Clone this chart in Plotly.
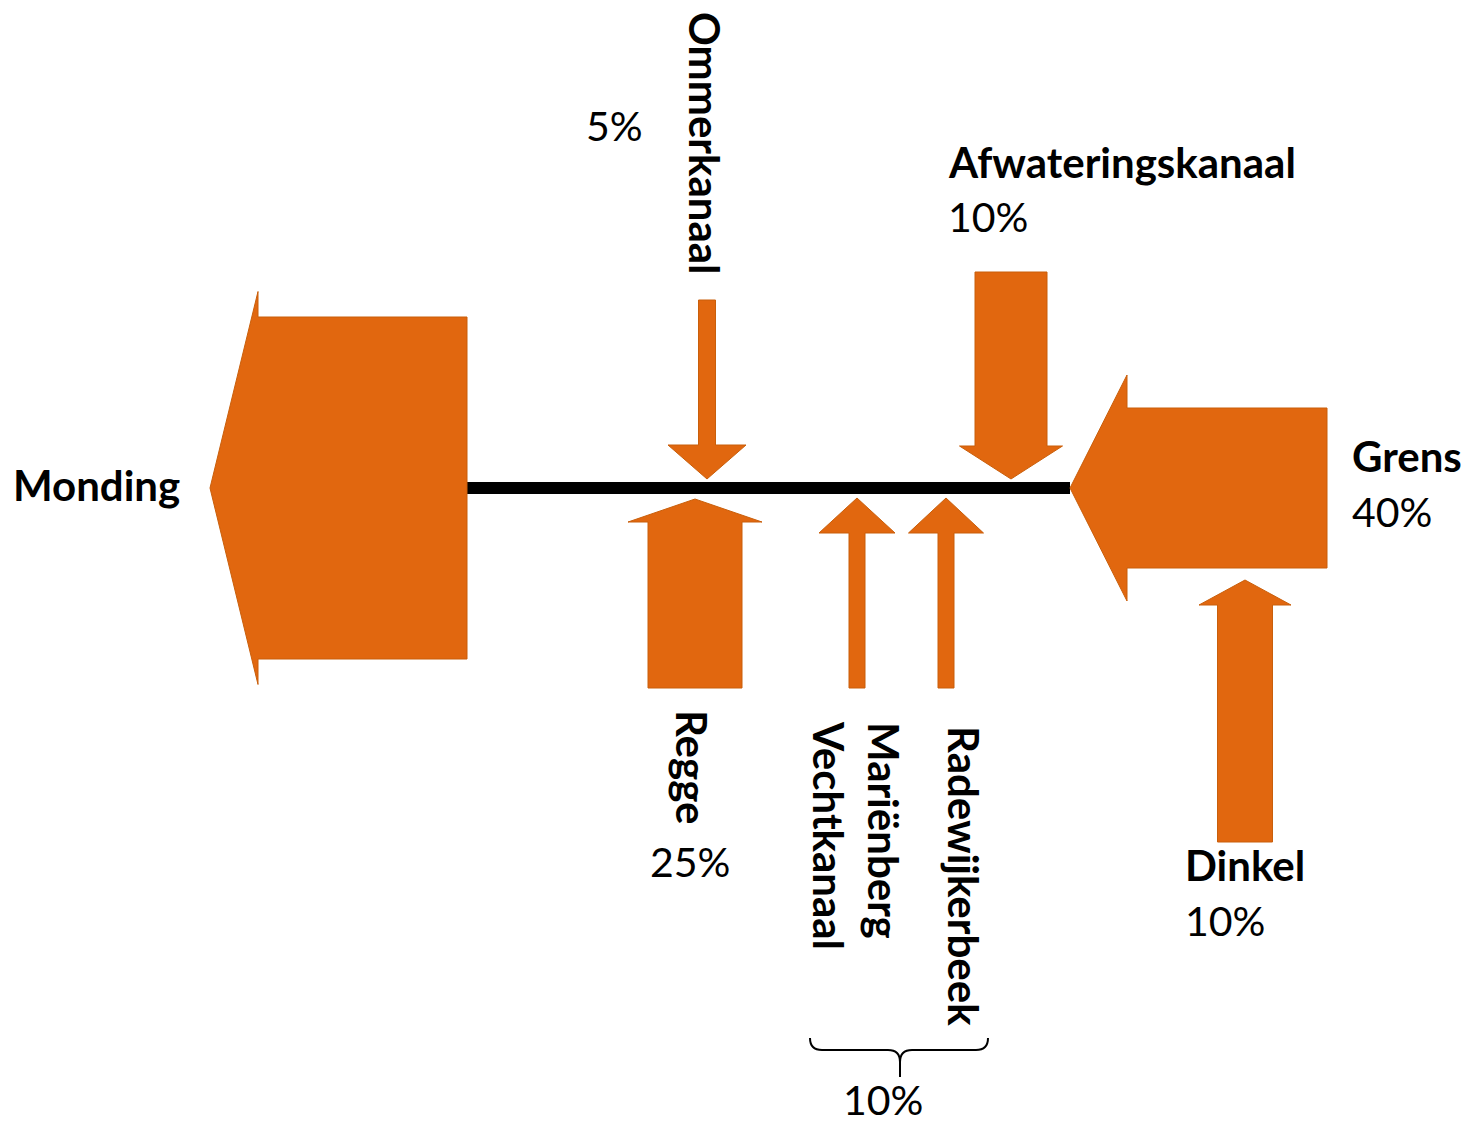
import plotly.graph_objects as go

# ---------------- data ----------------
rivers = ["Monding", "Ommerkanaal", "Regge", "Mariënberg<br>Vechtkanaal",
          "Radewijkerbeek", "Afwateringskanaal", "Grens", "Dinkel"]
shares = [None, 5, 25, None, None, 10, 40, 10]
group_members = ["Mariënberg<br>Vechtkanaal", "Radewijkerbeek"]
group_share = 10

# ---------------- layout (pixel geometry of the schematic) ----------------
W, H = 1470, 1126
ORANGE = "#E1670F"
EDGE = "#C95F0B"
FONT = "Lato, Carlito, Calibri, sans-serif"
FS_NAME = 42
FS_PCT = 41

# arrow geometry: tip, direction, total length, shaft width, head width, head length
arrow_geom = {
    "Monding":                  dict(tip=(210, 488), d=(-1, 0), L=257, w=342, hw=393, hl=48),
    "Grens":                    dict(tip=(1070, 488), d=(-1, 0), L=257, w=160, hw=226, hl=57),
    "Dinkel":                   dict(tip=(1245, 580), d=(0, -1), L=262, w=55, hw=92, hl=25),
    "Afwateringskanaal":        dict(tip=(1011, 479), d=(0, 1), L=207, w=72, hw=103, hl=33),
    "Ommerkanaal":              dict(tip=(707, 479), d=(0, 1), L=179, w=17, hw=78, hl=34),
    "Regge":                    dict(tip=(695, 499), d=(0, -1), L=189, w=94, hw=134, hl=23),
    "Mariënberg<br>Vechtkanaal": dict(tip=(857, 498), d=(0, -1), L=190, w=16, hw=76, hl=35),
    "Radewijkerbeek":           dict(tip=(946, 498), d=(0, -1), L=190, w=16, hw=75, hl=35),
}

# label placement: (x, y, xanchor, yanchor, angle) for name, and for the share
name_pos = {
    "Monding":                  (182, 485, "right", "middle", 0),
    "Ommerkanaal":              (705, 143, "center", "middle", 90),
    "Regge":                    (692, 767, "center", "middle", 90),
    "Mariënberg<br>Vechtkanaal": (857, 835, "center", "middle", 90),
    "Radewijkerbeek":           (964, 876, "center", "middle", 90),
    "Afwateringskanaal":        (946, 162, "left", "middle", 0),
    "Grens":                    (1350, 456, "left", "middle", 0),
    "Dinkel":                   (1183, 865, "left", "middle", 0),
}
share_pos = {
    "Ommerkanaal":       (614, 125, "center", "middle"),
    "Regge":             (690, 861, "center", "middle"),
    "Afwateringskanaal": (946, 216, "left", "middle"),
    "Grens":             (1350, 511, "left", "middle"),
    "Dinkel":            (1183, 920, "left", "middle"),
}
river_line = dict(x0=467, x1=1070, y=488, width=12)
brace = dict(x0=810, x1=988, xm=900, ytop=1038, ymid=1050, ybot=1077, r=12)
group_label_pos = (883, 1126)


def arrow_path(tip, d, L, w, hw, hl):
    tx, ty = tip
    dx, dy = d
    nx, ny = -dy, dx
    bx, by = tx - dx * hl, ty - dy * hl
    ex, ey = tx - dx * L, ty - dy * L
    pts = [
        (tx, ty),
        (bx + nx * hw / 2, by + ny * hw / 2),
        (bx + nx * w / 2, by + ny * w / 2),
        (ex + nx * w / 2, ey + ny * w / 2),
        (ex - nx * w / 2, ey - ny * w / 2),
        (bx - nx * w / 2, by - ny * w / 2),
        (bx - nx * hw / 2, by - ny * hw / 2),
    ]
    return "M " + " L ".join(f"{x},{y}" for x, y in pts) + " Z"


fig = go.Figure()
shapes = []
annotations = []

# main river line
shapes.append(dict(type="line", xref="x", yref="y",
                   x0=river_line["x0"], x1=river_line["x1"],
                   y0=river_line["y"], y1=river_line["y"],
                   line=dict(color="black", width=river_line["width"]), layer="above"))

for name in rivers:
    g = arrow_geom[name]
    shapes.append(dict(type="path", xref="x", yref="y", path=arrow_path(**g),
                       fillcolor=ORANGE, line=dict(color=EDGE, width=1), layer="above"))

for name, share in zip(rivers, shares):
    x, y, xa, ya, ang = name_pos[name]
    annotations.append(dict(x=x, y=y, xref="x", yref="y", text=f"<b>{name}</b>",
                            showarrow=False, xanchor=xa, yanchor=ya, textangle=ang,
                            align="left", font=dict(family=FONT, size=FS_NAME, color="black")))
    if share is not None:
        sx, sy, sxa, sya = share_pos[name]
        annotations.append(dict(x=sx, y=sy, xref="x", yref="y", text=f"{share}%",
                                showarrow=False, xanchor=sxa, yanchor=sya,
                                font=dict(family=FONT, size=FS_PCT, color="black")))

# curly brace for grouped tributaries
b = brace
r = b["r"]
bpath = (f"M {b['x0']},{b['ytop']} Q {b['x0']},{b['ymid']} {b['x0']+r},{b['ymid']} "
         f"L {b['xm']-r},{b['ymid']} Q {b['xm']},{b['ymid']} {b['xm']},{b['ymid']+r} "
         f"L {b['xm']},{b['ybot']} "
         f"M {b['xm']},{b['ymid']+r} Q {b['xm']},{b['ymid']} {b['xm']+r},{b['ymid']} "
         f"L {b['x1']-r},{b['ymid']} Q {b['x1']},{b['ymid']} {b['x1']},{b['ytop']}")
shapes.append(dict(type="path", xref="x", yref="y", path=bpath,
                   line=dict(color="black", width=2)))
annotations.append(dict(x=group_label_pos[0], y=group_label_pos[1], xref="x", yref="y",
                        text=f"{group_share}%", showarrow=False,
                        xanchor="center", yanchor="bottom",
                        font=dict(family=FONT, size=FS_PCT, color="black")))

fig.update_layout(
    width=W, height=H,
    margin=dict(l=0, r=0, t=0, b=0),
    paper_bgcolor="white", plot_bgcolor="white",
    xaxis=dict(range=[0, W], visible=False, fixedrange=True),
    yaxis=dict(range=[H, 0], visible=False, fixedrange=True),
    shapes=shapes, annotations=annotations, showlegend=False,
)

fig.write_html("out.html", config={"displayModeBar": False})
